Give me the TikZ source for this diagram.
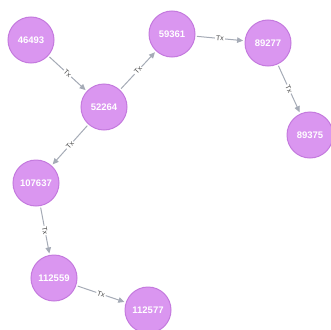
\documentclass[tikz,border=0pt]{standalone}
\usepackage{fontspec}
\setmainfont{Liberation Sans}
\usetikzlibrary{arrows.meta}
\definecolor{nodefill}{RGB}{218,150,240}
\definecolor{nodeborder}{RGB}{196,122,222}
\definecolor{edgegray}{RGB}{165,171,182}
\definecolor{lblgray}{RGB}{70,70,70}
\tikzset{
  person/.style={circle, fill=nodefill, draw=nodeborder, line width=1pt,
    minimum size=46pt, inner sep=0pt, outer sep=2pt, text=white,
    font=\fontsize{9.5}{10}\selectfont\bfseries},
  rel/.style={draw=edgegray, line width=1pt, -{Triangle[length=6pt,width=5.5pt]}},
  rellbl/.style={fill=white, inner sep=1pt, sloped, text=lblgray,
    font=\fontsize{7}{8}\selectfont}
}
\begin{document}
\begin{tikzpicture}[x=1pt,y=-1pt]
\useasboundingbox (0,0) rectangle (331,329);
\node[person] (n46493) at (31,40) {46493};
\node[person] (n52264) at (104,107) {52264};
\node[person] (n59361) at (172,34) {59361};
\node[person] (n89277) at (268,43) {89277};
\node[person] (n89375) at (310,135) {89375};
\node[person] (n107637) at (36,183) {107637};
\node[person] (n112559) at (54,278) {112559};
\node[person] (n112577) at (148,310) {112577};
\draw[rel] (n46493) -- node[rellbl]{Tx} (n52264);
\draw[rel] (n52264) -- node[rellbl]{Tx} (n59361);
\draw[rel] (n59361) -- node[rellbl]{Tx} (n89277);
\draw[rel] (n89277) -- node[rellbl]{Tx} (n89375);
\draw[rel] (n52264) -- node[rellbl]{Tx} (n107637);
\draw[rel] (n107637) -- node[rellbl]{Tx} (n112559);
\draw[rel] (n112559) -- node[rellbl]{Tx} (n112577);
\end{tikzpicture}
\end{document}
